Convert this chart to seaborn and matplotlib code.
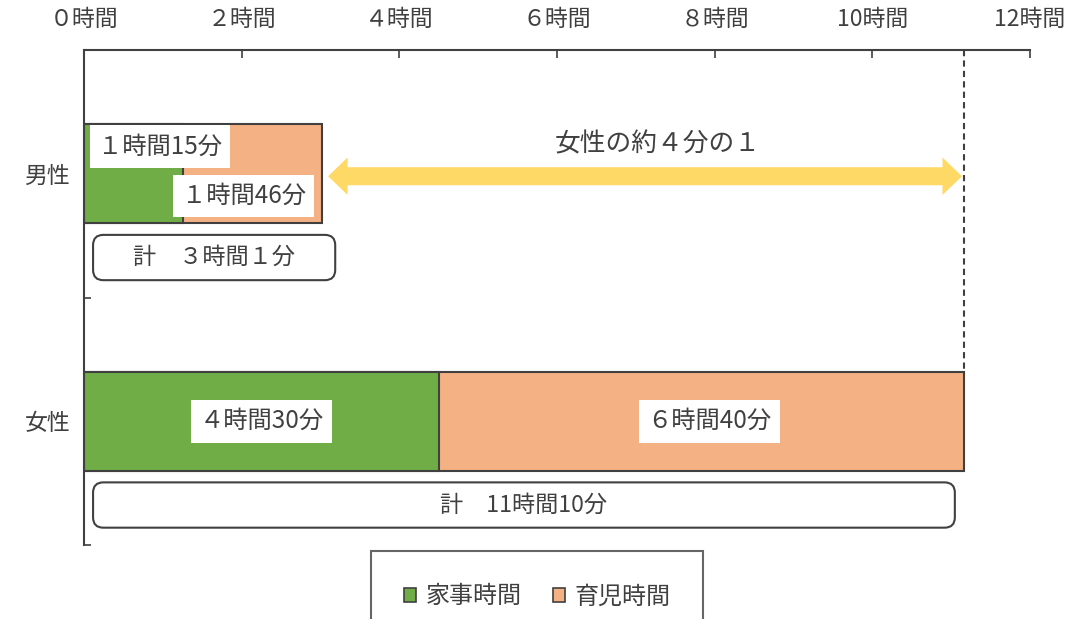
import numpy as np
import pandas as pd
import matplotlib
matplotlib.use("Agg")
import matplotlib.pyplot as plt
from matplotlib.patches import Patch, FancyBboxPatch, FancyArrowPatch
import seaborn as sns

# data (minutes per day)
CATEGORIES = ["男性", "女性"]
HOUSEWORK_MIN = [75, 270]     # 家事時間
CHILDCARE_MIN = [106, 400]    # 育児時間
SERIES = ["家事時間", "育児時間"]
X_TICKS = [0, 2, 4, 6, 8, 10, 12]
ARROW_TEXT = "女性の約４分の１"

GREEN = "#70AD47"
ORANGE = "#F4B183"
YELLOW = "#FFD966"
DARK = "#404040"

ZEN = str.maketrans("0123456789", "０１２３４５６７８９")


def num(n):
    # single digits are written full-width in the original
    s = str(n)
    return s.translate(ZEN) if len(s) == 1 else s


def hm(minutes):
    h, m = divmod(minutes, 60)
    return f"{num(h)}時間{num(m)}分"


sns.set_theme(style="white")
plt.rcParams["font.family"] = ["Noto Sans CJK JP", "DejaVu Sans"]
plt.rcParams["text.color"] = DARK

df = pd.DataFrame({
    "gender": CATEGORIES,
    "house": np.array(HOUSEWORK_MIN) / 60,
    "total": (np.array(HOUSEWORK_MIN) + np.array(CHILDCARE_MIN)) / 60,
})

fig = plt.figure(figsize=(10.78, 6.19), dpi=100)
ax = fig.add_axes([84 / 1078, 1 - 545 / 619, 946 / 1078, 495 / 619])

# stacked bars: total (orange) first, housework (green) on top
sns.barplot(data=df, x="total", y="gender", color=ORANGE, width=0.4,
            edgecolor=DARK, linewidth=1.5, saturation=1, ax=ax)
sns.barplot(data=df, x="house", y="gender", color=GREEN, width=0.4,
            edgecolor=DARK, linewidth=1.5, saturation=1, ax=ax)

ax.set_xlim(0, 12)
ax.set_ylim(1.5, -0.5)
ax.set_xlabel("")
ax.set_ylabel("")

# axis styling
for side in ["right", "bottom"]:
    ax.spines[side].set_visible(False)
for side in ["top", "left"]:
    ax.spines[side].set_color(DARK)
    ax.spines[side].set_linewidth(1.5)

ax.xaxis.tick_top()
ax.set_xticks(X_TICKS)
ax.set_xticklabels([f"{num(t)}時間" for t in X_TICKS])
ax.tick_params(axis="x", direction="in", length=6, width=1.2, color=DARK,
               labelsize=16.5, labelcolor=DARK, pad=14)
ax.tick_params(axis="y", which="major", length=0, labelsize=16.5,
               labelcolor=DARK, pad=10)
ax.set_yticks([-0.5, 0.5, 1.5], minor=True)
ax.tick_params(axis="y", which="minor", direction="in", length=5,
               width=1.2, color=DARK, left=True)

house = df["house"].to_numpy()
total = df["total"].to_numpy()

# value labels on white boxes
box_kw = dict(facecolor="white", edgecolor="none", pad=6)
lab_fs = 17.5
# 男性: labels offset because the segments are narrow
ax.text(house[0] * 0.77, -0.11, hm(HOUSEWORK_MIN[0]), ha="center",
        va="center", fontsize=lab_fs, bbox=box_kw)
ax.text((house[0] + total[0]) / 2 - 0.11, 0.09, hm(CHILDCARE_MIN[0]),
        ha="center", va="center", fontsize=lab_fs, bbox=box_kw)
# 女性
ax.text(house[1] / 2, 1, hm(HOUSEWORK_MIN[1]), ha="center", va="center",
        fontsize=lab_fs, bbox=box_kw)
ax.text((house[1] + total[1]) / 2 + 0.1, 1, hm(CHILDCARE_MIN[1]),
        ha="center", va="center", fontsize=lab_fs, bbox=box_kw)

# rounded total boxes under each bar
box_right = [total[0] + 0.17, total[1] - 0.12]
x_per_px = 12 / 946
y_per_px = 2 / 495
for i in range(len(CATEGORIES)):
    y0 = i + 0.247
    h = 0.183
    patch = FancyBboxPatch((0.115, y0), box_right[i] - 0.115, h,
                           boxstyle="round,pad=0,rounding_size=0.13",
                           mutation_aspect=y_per_px / x_per_px,
                           facecolor="white", edgecolor=DARK, linewidth=1.5,
                           clip_on=False)
    ax.add_patch(patch)
    tot_min = HOUSEWORK_MIN[i] + CHILDCARE_MIN[i]
    ax.text((0.115 + box_right[i]) / 2, y0 + h / 2, f"計　{hm(tot_min)}",
            ha="center", va="center", fontsize=16.7)

# dashed reference line at women's total
ax.vlines(total[1], -0.5, 0.8, colors=DARK, linestyles=(0, (3, 2)),
          linewidth=1.5)

# double-headed comparison arrow
x_left, x_right = total[0] + 0.08, total[1] - 0.03
x_mid = (x_left + x_right) / 2
for end in (x_left, x_right):
    arr = FancyArrowPatch((x_mid, 0.01), (end, 0.01),
                          arrowstyle="simple,head_length=14,head_width=27,tail_width=13",
                          mutation_scale=1, color=YELLOW, shrinkA=0, shrinkB=0,
                          linewidth=0)
    ax.add_patch(arr)
ax.text(x_mid + 0.16, -0.12, ARROW_TEXT, ha="center", va="center",
        fontsize=18.5)

# legend
handles = [Patch(facecolor=GREEN, edgecolor=DARK, linewidth=1.2),
           Patch(facecolor=ORANGE, edgecolor=DARK, linewidth=1.2)]
leg = fig.legend(handles, SERIES, loc="upper center",
                 bbox_to_anchor=(537 / 1078, 1 - 551 / 619), ncol=2,
                 fontsize=17.3, frameon=True, fancybox=False,
                 edgecolor=DARK, borderpad=1.35, borderaxespad=0,
                 handlelength=0.5, handleheight=0.5, handletextpad=0.4,
                 columnspacing=1.3)
leg.get_frame().set_linewidth(1.5)
for t in leg.get_texts():
    t.set_color(DARK)

fig.savefig("out.png", dpi=100)
